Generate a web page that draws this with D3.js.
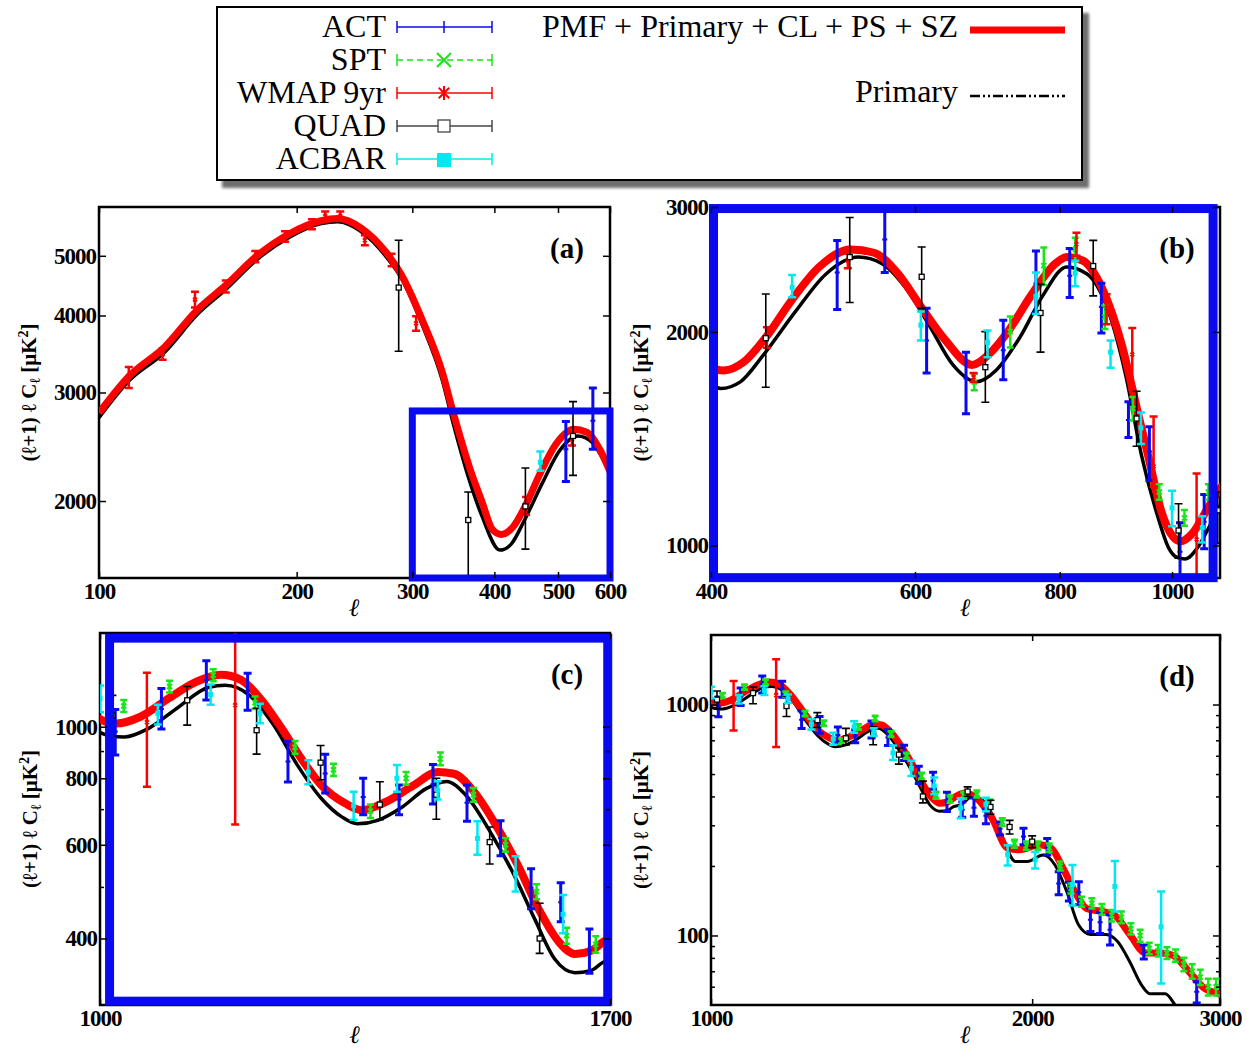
<!DOCTYPE html>
<html>
<head>
<meta charset="utf-8">
<script src="https://cdn.jsdelivr.net/npm/d3@7"></script>
<style>
body { margin: 0; background: #fff; }
text { font-family: "Liberation Serif", "Times New Roman", "DejaVu Serif", serif; }
</style>
</head>
<body>
<div class="chart"></div>
<script>
// theory curves: PMF + Primary + CL + PS + SZ (red) and Primary (black)
const pmfEll = [100,111,126,141,156,174,195,218,231,251,273,289,310,333,347,367,383,397,410,427,446,469,496,528,553,580,607,637,672,694,722,756,793,811,837,870,905,934,956,979,1002,1017,1043,1074,1106,1134,1158,1183,1208,1233,1259,1291,1313,1346,1386,1421,1445,1476,1513,1545,1578,1612,1639,1666,1688,1729,1773,1834,1897,1947,2031,2083,2137,2193,2249,2326,2387,2469,2555,2642,2712,2804,2901,2989,3050];
const pmfVal = [2780,3185,3560,4080,4480,5000,5430,5700,5745,5540,5080,4650,3955,3245,2760,2260,1995,1800,1765,1815,1965,2211,2470,2614,2586,2416,2171,1949,1797,1857,2004,2254,2496,2550,2522,2307,1917,1543,1315,1117,1029,1014,1044,1130,1216,1252,1225,1122,993,871,776,717,697,722,776,822,816,754,643,548,455,394,374,379,394,414,394,322,239,235,247,239,196,155,131,127,123,101,84,84,82,70,59,56,54];

const primEll = [100,111,126,141,156,174,195,218,231,251,273,289,310,333,347,367,383,408,424,444,473,503,536,562,589,617,647,678,705,739,774,811,844,877,912,941,971,994,1010,1026,1052,1083,1120,1139,1168,1198,1228,1259,1286,1307,1335,1369,1404,1434,1463,1501,1539,1572,1605,1639,1666,1688,1714,1758,1804,1866,1930,1980,2048,2101,2155,2211,2268,2346,2406,2469,2533,2578,2666,2723,2800];
const primVal = [2730,3130,3490,4010,4410,4930,5360,5640,5680,5470,5000,4590,3880,3150,2650,2150,1890,1665,1701,1857,2136,2416,2550,2496,2307,2045,1797,1701,1766,1965,2254,2470,2416,2185,1739,1341,1105,990,962,957,993,1082,1186,1196,1146,1007,847,733,677,657,667,706,765,789,744,634,525,435,366,345,348,361,368,400,380,282,209,209,223,202,155,111,101,101,94,77,61,56,56,50,42];

// measurements
const actEll = [514,565,614,664,715,763,816,869,917,956,1016,1066,1117,1166,1216,1264,1315,1365,1414,1465,1517,1566,1615,1664,1720,1764,1810,1866,1963,2066,2118,2165,2212,2268,2316,2366,2545,2853];
const actVal = [2426,2700,1945,1720,1884,2340,2400,2171,1503,1357,980,1080,1224,1169,860,817,738,730,780,720,617,498,468,380,350,357,330,290,268,241,168,155,154,117,114,106,84,57];
const actLo  = [2151,2426,1750,1534,1712,2127,2237,1993,1420,1235,885,990,1122,1074,787,751,683,683,716,664,572,455,430,344,325,328,305,272,247,223,150,141,136,104,102,91,79,51];
const actHi  = [2692,3050,2159,1873,2078,2600,2621,2343,1594,1470,1077,1180,1330,1260,939,888,800,777,849,777,666,541,509,417,378,394,350,310,291,263,189,170,171,131,126,123,91,63];

const sptEll = [675,725,775,825,875,925,975,1025,1075,1125,1175,1225,1275,1325,1375,1425,1475,1525,1575,1625,1675,1725,1775,1825,1875,1925,1975,2025,2075,2125,2175,2225,2275,2325,2375,2425,2475,2525,2575,2625,2675,2725,2775,2825,2875,2925,2975];
const sptVal = [1700,2002,2480,2615,2100,1560,1190,1094,1190,1250,1110,915,830,694,800,870,745,600,490,405,390,405,410,375,310,250,245,245,240,200,160,140,138,130,122,120,107,100,88,86,84,82,75,70,66,60,60];
const sptErr = [45,100,150,100,80,60,30,28,30,32,30,25,22,20,22,24,22,18,16,14,14,14,14,13,12,10,10,10,10,9,8,7,7,7,7,7,6,6,5,5,5,5,5,5,5,5,5];

const wmapEll = [111,125,140,156,173,192,211,221,233,254,279,304,447,525,674,827,878,924,964,1050,1151];
const wmapVal = [3200,3460,4245,4455,4982,5370,5625,5800,5800,5300,4925,3883,1960,2521,1727,2660,2160,1859,1293,1020,1098];
const wmapLo  = [3050,3390,4120,4360,4880,5270,5520,5700,5700,5200,4810,3780,1900,2460,1700,2560,2050,1657,1210,771,655];
const wmapHi  = [3300,3540,4370,4560,5090,5480,5730,5900,5900,5400,5040,3990,2030,2580,1750,2760,2260,2025,1520,1263,1570];

const quadEll = [286,365,446,527,608,690,770,855,932,1013,1095,1177,1258,1338,1419,1500,1580,1740,1828,1905,2000];
const quadVal = [4440,1863,1960,2550,2392,1784,2127,2477,1510,1050,1121,985,856,714,745,607,400,420,360,295,255];
const quadLo  = [3500,1300,1671,2201,2159,1592,1873,2248,1380,960,1007,888,795,669,670,552,375,400,335,275,240];
const quadHi  = [5300,2069,2262,2899,2635,2002,2334,2692,1650,1145,1190,1083,922,788,800,648,466,440,385,315,270];

const acbarEll = [470,607,693,763,825,885,940,1000,1062,1122,1181,1242,1302,1362,1421,1481,1541,1619,1714,1810,1897,2013,2182,2391,2642];
const acbarVal = [2311,2045,1934,2245,2420,1873,1465,1130,1060,1150,1060,822,710,800,760,617,529,444,357,370,224,213,166,163,109];
const acbarLo  = [2239,1946,1843,2120,2320,1780,1390,1065,1010,1100,1015,780,669,755,730,575,490,409,322,345,201,195,135,127,62];
const acbarHi  = [2406,2137,2010,2425,2520,1945,1540,1195,1100,1200,1105,865,755,847,790,664,571,483,393,395,246,230,202,210,155];

// tick values per panel
const aXTicks = [100,200,300,400,500,600];
const aYTicks = [2000,3000,4000,5000];
const bXTicks = [400,600,800,1000];
const bYTicks = [1000,2000,3000];
const cXTicks = [1000,1700];
const cYTicks = [400,600,800,1000];
const cYMinor = [500,700,900];
const dXTicks = [1000,2000,3000];
const dYTicks = [100,1000];
const dYMinor = [60,70,80,90,200,300,400,500,600,700,800,900];

// zoom boxes (data coordinates: l0, l1, v0, v1)
const aBox = [300, 600, 1500, 2800];
const bBox = [402, 1085, 901, 2985];
const cBox = [1010, 1696, 305, 1467];

const legendNames = ['ACT', 'SPT', 'WMAP 9yr', 'QUAD', 'ACBAR'];
const curveNames = ['PMF + Primary + CL + PS + SZ', 'Primary'];

const BLUE = '#0a0af0', RED = '#ff0000', GREEN = '#19e619', CYAN = '#00e8f0';

const svg = d3.select('.chart')
    .append('svg')
    .attr('width', 1247)
    .attr('height', 1049);

const zip = (e, v) => e.map((d, i) => [d, v[i]]);

const datasets = [
    {color: BLUE, w: 3, cap: 4, mark: 'plus',
     pts: actEll.map((d, i) => ({l: d, v: actVal[i], lo: actLo[i], hi: actHi[i]}))},
    {color: GREEN, w: 2.5, cap: 3.5, mark: 'cross',
     pts: sptEll.map((d, i) => ({l: d, v: sptVal[i], lo: sptVal[i] - sptErr[i], hi: sptVal[i] + sptErr[i]}))},
    {color: RED, w: 2.5, cap: 4, mark: 'star',
     pts: wmapEll.map((d, i) => ({l: d, v: wmapVal[i], lo: wmapLo[i], hi: wmapHi[i]}))},
    {color: '#000', w: 1.6, cap: 4, mark: 'square',
     pts: quadEll.map((d, i) => ({l: d, v: quadVal[i], lo: quadLo[i], hi: quadHi[i]}))},
    {color: CYAN, w: 2.5, cap: 4, mark: 'fsquare',
     pts: acbarEll.map((d, i) => ({l: d, v: acbarVal[i], lo: acbarLo[i], hi: acbarHi[i]}))}
];

function marker(g, type, cx, cy, color, s) {
    if (type === 'plus') {
        g.append('path').attr('d', `M${cx - s},${cy}H${cx + s}M${cx},${cy - s}V${cy + s}`)
            .attr('stroke', color).attr('stroke-width', 2).attr('fill', 'none');
    } else if (type === 'cross') {
        g.append('path').attr('d', `M${cx - s},${cy - s}L${cx + s},${cy + s}M${cx + s},${cy - s}L${cx - s},${cy + s}`)
            .attr('stroke', color).attr('stroke-width', 2).attr('fill', 'none');
    } else if (type === 'star') {
        const t = s * 0.75;
        g.append('path').attr('d', `M${cx},${cy - s}V${cy + s}M${cx - t},${cy - t}L${cx + t},${cy + t}M${cx + t},${cy - t}L${cx - t},${cy + t}`)
            .attr('stroke', color).attr('stroke-width', 2).attr('fill', 'none');
    } else if (type === 'square') {
        g.append('rect').attr('x', cx - s).attr('y', cy - s).attr('width', 2 * s).attr('height', 2 * s)
            .attr('fill', '#fff').attr('stroke', color).attr('stroke-width', 1.3);
    } else {
        g.append('rect').attr('x', cx - s).attr('y', cy - s).attr('width', 2 * s).attr('height', 2 * s)
            .attr('fill', color);
    }
}

// ---------- legend ----------
const defs = svg.append('defs');
defs.append('filter').attr('id', 'blur').append('feGaussianBlur').attr('stdDeviation', 1.5);

const leg = svg.append('g');
leg.append('rect').attr('x', 222).attr('y', 13).attr('width', 867).attr('height', 175)
    .attr('fill', '#6e6e6e').attr('filter', 'url(#blur)');
leg.append('rect').attr('x', 217).attr('y', 7).attr('width', 865).attr('height', 173)
    .attr('fill', '#fff').attr('stroke', '#000').attr('stroke-width', 2);

legendNames.forEach((name, i) => {
    const cy = 27 + i * 33;
    const ds = datasets[i];
    const col = i === 3 ? '#444' : ds.color;
    leg.append('text').attr('x', 386).attr('y', cy + 10).attr('text-anchor', 'end')
        .attr('font-size', 32).text(name);
    leg.append('line').attr('x1', 397).attr('x2', 492).attr('y1', cy).attr('y2', cy)
        .attr('stroke', col).attr('stroke-width', 1.5)
        .attr('stroke-dasharray', i === 1 ? '6,4' : null);
    [397, 492].forEach(xx => leg.append('line').attr('x1', xx).attr('x2', xx)
        .attr('y1', cy - 6).attr('y2', cy + 6).attr('stroke', col).attr('stroke-width', 1.5));
    if (i === 0) {
        leg.append('line').attr('x1', 444).attr('x2', 444).attr('y1', cy - 6).attr('y2', cy + 6)
            .attr('stroke', col).attr('stroke-width', 1.5);
    } else if (i === 3) {
        marker(leg, 'square', 444, cy, col, 6);
    } else if (i === 4) {
        marker(leg, 'fsquare', 444, cy + 1, col, 7);
    } else {
        marker(leg, ds.mark, 444, cy, col, 7);
    }
});

leg.append('text').attr('x', 958).attr('y', 37).attr('text-anchor', 'end')
    .attr('font-size', 32).text(curveNames[0]);
leg.append('line').attr('x1', 970).attr('x2', 1065).attr('y1', 30).attr('y2', 30)
    .attr('stroke', RED).attr('stroke-width', 7);
leg.append('text').attr('x', 958).attr('y', 102).attr('text-anchor', 'end')
    .attr('font-size', 32).text(curveNames[1]);
leg.append('line').attr('x1', 970).attr('x2', 1065).attr('y1', 96).attr('y2', 96)
    .attr('stroke', '#000').attr('stroke-width', 2.5).attr('stroke-dasharray', '10,3,2,3,2,3');

// ---------- panels ----------
const panels = [
    {id: 'a', left: 99, right: 610, top: 207, bottom: 578, xDom: [100, 600], yDom: [1500, 6000],
     xTicks: aXTicks, yTicks: aYTicks, yMinor: [], box: aBox, boxW: 7, redW: 7, blackW: 3.5},
    {id: 'b', left: 711, right: 1220, top: 207, bottom: 578, xDom: [400, 1100], yDom: [900, 3000],
     xTicks: bXTicks, yTicks: bYTicks, yMinor: [], box: bBox, boxW: 9, redW: 8, blackW: 3.5},
    {id: 'c', left: 100, right: 610, top: 633, bottom: 1005, xDom: [1000, 1700], yDom: [300, 1500],
     xTicks: cXTicks, yTicks: cYTicks, yMinor: cYMinor, box: cBox, boxW: 9, redW: 8, blackW: 3.5},
    {id: 'd', left: 711, right: 1220, top: 635, bottom: 1005, xDom: [1000, 3000], yDom: [50, 2000],
     xTicks: dXTicks, yTicks: dYTicks, yMinor: dYMinor, box: null, boxW: 0, redW: 7, blackW: 3}
];

const fmt = d3.format('d');

panels.forEach(p => {
    const x = d3.scaleLog().domain(p.xDom).range([p.left, p.right]);
    const y = d3.scaleLog().domain(p.yDom).range([p.bottom, p.top]);
    const g = svg.append('g');

    defs.append('clipPath').attr('id', 'clip-' + p.id)
        .append('rect').attr('x', p.left).attr('y', p.top)
        .attr('width', p.right - p.left).attr('height', p.bottom - p.top);

    g.append('rect').attr('x', p.left).attr('y', p.top)
        .attr('width', p.right - p.left).attr('height', p.bottom - p.top)
        .attr('fill', '#fff').attr('stroke', '#000').attr('stroke-width', 2.5);

    const plot = g.append('g').attr('clip-path', `url(#clip-${p.id})`);

    const line = d3.line()
        .x(d => x(d[0]))
        .y(d => y(d[1]))
        .curve(d3.curveMonotoneX);

    plot.append('path').datum(zip(primEll, primVal))
        .attr('d', line).attr('fill', 'none').attr('stroke', '#000').attr('stroke-width', p.blackW);
    plot.append('path').datum(zip(pmfEll, pmfVal))
        .attr('d', line).attr('fill', 'none').attr('stroke', RED).attr('stroke-width', p.redW);

    datasets.forEach(ds => {
        ds.pts.filter(d => d.l >= p.xDom[0] * 0.98 && d.l <= p.xDom[1] * 1.02).forEach(d => {
            const cx = x(d.l);
            const y0 = y(d.lo), y1 = y(d.hi);
            plot.append('path')
                .attr('d', `M${cx},${y0}V${y1}M${cx - ds.cap},${y0}H${cx + ds.cap}M${cx - ds.cap},${y1}H${cx + ds.cap}`)
                .attr('stroke', ds.color).attr('stroke-width', ds.w).attr('fill', 'none');
            marker(plot, ds.mark, cx, y(d.v), ds.color, 2.5);
        });
    });

    if (p.box) {
        g.append('rect')
            .attr('x', x(p.box[0])).attr('y', y(p.box[3]))
            .attr('width', x(p.box[1]) - x(p.box[0]))
            .attr('height', y(p.box[2]) - y(p.box[3]))
            .attr('fill', 'none').attr('stroke', BLUE).attr('stroke-width', p.boxW);
    }

    // axes
    const styleAxis = sel => {
        sel.select('.domain').remove();
        sel.selectAll('.tick line').attr('stroke', '#000').attr('stroke-width', 1.5);
        sel.selectAll('.tick text').attr('fill', '#000')
            .attr('font-family', '"Liberation Serif", "Times New Roman", serif')
            .attr('font-size', 23).attr('font-weight', 'bold').attr('letter-spacing', -1);
    };

    g.append('g').attr('transform', `translate(0,${p.bottom})`)
        .call(d3.axisBottom(x).tickValues(p.xTicks).tickFormat(fmt).tickSize(-6).tickPadding(5))
        .call(styleAxis);
    g.append('g').attr('transform', `translate(0,${p.top})`)
        .call(d3.axisTop(x).tickValues(p.xTicks).tickFormat('').tickSize(-6))
        .call(styleAxis);
    g.append('g').attr('transform', `translate(${p.left},0)`)
        .call(d3.axisLeft(y).tickValues(p.yTicks).tickFormat(fmt).tickSize(-7).tickPadding(3))
        .call(styleAxis);
    g.append('g').attr('transform', `translate(${p.right},0)`)
        .call(d3.axisRight(y).tickValues(p.yTicks).tickFormat('').tickSize(-7))
        .call(styleAxis);
    if (p.yMinor.length) {
        g.append('g').attr('transform', `translate(${p.left},0)`)
            .call(d3.axisLeft(y).tickValues(p.yMinor).tickFormat('').tickSize(-4))
            .call(styleAxis);
        g.append('g').attr('transform', `translate(${p.right},0)`)
            .call(d3.axisRight(y).tickValues(p.yMinor).tickFormat('').tickSize(-4))
            .call(styleAxis);
    }

    // axis titles
    g.append('text')
        .attr('x', (p.left + p.right) / 2).attr('y', p.bottom + 38)
        .attr('text-anchor', 'middle').attr('font-size', 25).attr('font-weight', 'bold')
        .attr('font-style', 'italic').text('ℓ');

    const yl = g.append('text')
        .attr('transform', `translate(${p.left - 63},${(p.top + p.bottom) / 2}) rotate(-90)`)
        .attr('text-anchor', 'middle').attr('font-size', 21).attr('font-weight', 'bold');
    yl.append('tspan').text('(ℓ+1) ℓ C');
    yl.append('tspan').attr('dy', 4).attr('font-size', 15).text('ℓ');
    yl.append('tspan').attr('dy', -4).text(' [μK');
    yl.append('tspan').attr('dy', -8).attr('font-size', 14).text('2');
    yl.append('tspan').attr('dy', 8).text(']');

    g.append('text')
        .attr('x', p.right - 43).attr('y', p.top + 51)
        .attr('text-anchor', 'middle').attr('font-size', 29).attr('font-weight', 'bold')
        .text('(' + p.id + ')');
});
</script>
</body>
</html>
